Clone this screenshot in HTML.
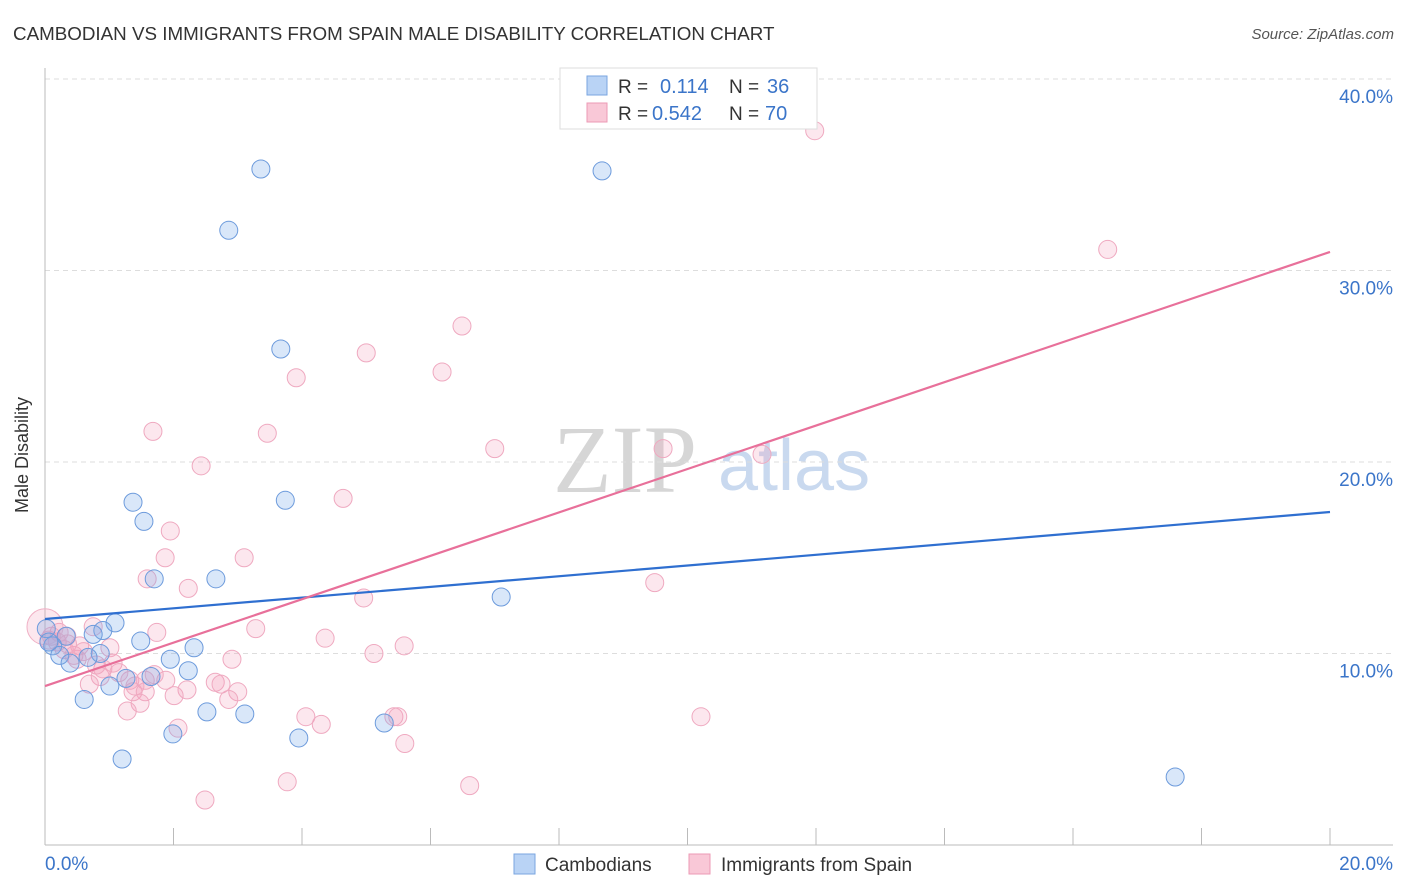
<!DOCTYPE html>
<html><head><meta charset="utf-8"><style>
body{margin:0;background:#fff;font-family:"Liberation Sans",sans-serif;}
svg{display:block}
</style></head><body>
<svg id="chart" width="1406" height="892" xmlns="http://www.w3.org/2000/svg">
<text x="13" y="40" font-size="18.8" fill="#333">CAMBODIAN VS IMMIGRANTS FROM SPAIN MALE DISABILITY CORRELATION CHART</text>
<text x="1394" y="39" font-size="15" font-style="italic" fill="#555" text-anchor="end">Source: ZipAtlas.com</text>
<g>
<text x="553" y="492" font-size="96" font-family="Liberation Serif,serif" fill="#d6d6d6">ZIP</text>
<text x="718" y="490" font-size="72" fill="#c9d9ef">atlas</text>
</g>
<g id="grid"></g>
<line x1="45" y1="68" x2="45" y2="845" stroke="#bbb"/>
<line x1="45" y1="845" x2="1393" y2="845" stroke="#bbb"/>
<g id="xticks"></g>
<g id="points"></g>
<g id="lines"></g>
<text x="28" y="455" font-size="18" fill="#333" text-anchor="middle" transform="rotate(-90 28 455)">Male Disability</text>
<g>
<rect x="560" y="68" width="257" height="61" fill="#fff" stroke="#ddd"/>
<rect x="587" y="76" width="20" height="19" fill="#b9d3f5" stroke="#7aa6e0"/>
<rect x="587" y="103" width="20" height="19" fill="#f9c8d7" stroke="#ec9ab5"/>
<text x="618" y="93" font-size="19" fill="#333">R =</text><text x="660" y="93" font-size="20" fill="#3b75c9">0.114</text>
<text x="729" y="93" font-size="19" fill="#333">N =</text><text x="767" y="93" font-size="20" fill="#3b75c9">36</text>
<text x="618" y="120" font-size="19" fill="#333">R =</text><text x="652" y="120" font-size="20" fill="#3b75c9">0.542</text>
<text x="729" y="120" font-size="19" fill="#333">N =</text><text x="765" y="120" font-size="20" fill="#3b75c9">70</text>
</g>
<g>
<rect x="514" y="854" width="21" height="20" fill="#b9d3f5" stroke="#7aa6e0"/>
<text x="545" y="871" font-size="19" fill="#333">Cambodians</text>
<rect x="689" y="854" width="21" height="20" fill="#f9c8d7" stroke="#ec9ab5"/>
<text x="721" y="871" font-size="19" fill="#333">Immigrants from Spain</text>
</g>
</svg>
<script>
const yTicks=[10,20,30,40];
const yTickLabels=["10.0%","20.0%","30.0%","40.0%"];
const xTickLabels=["0.0%","20.0%"];
const blueX=[3.36,8.67,2.86,3.67,1.37,3.74,1.54,1.70,2.66,7.10,17.59,1.09,0.90,0.75,0.33,1.49,2.32,0.12,0.86,1.95,0.23,0.67,0.39,2.23,1.65,1.26,1.01,0.61,2.52,3.11,5.28,1.99,3.95,1.20,0.02,0.06];
const blueY=[35.3,35.2,32.1,25.9,17.9,18.0,16.9,13.9,13.9,12.95,3.55,11.6,11.2,11.0,10.9,10.65,10.3,10.4,10.0,9.7,9.9,9.8,9.5,9.1,8.8,8.7,8.3,7.6,6.95,6.84,6.37,5.8,5.59,4.49,11.3,10.6];
const pinkX=[11.98,16.54,6.49,5.0,3.91,6.18,1.68,3.46,7.0,9.62,11.16,2.43,4.64,1.95,1.87,3.10,1.59,2.23,9.49,4.96,3.28,1.74,4.36,0.75,0.34,5.59,5.12,2.91,0.06,0.54,1.01,0.50,1.06,0.86,0.69,1.32,1.56,1.88,2.21,2.65,2.74,3.0,2.01,1.37,1.56,2.86,1.48,1.28,2.07,4.06,4.30,5.43,5.49,5.6,10.21,3.77,2.49,6.61,0.22,0.19,0.3,0.45,0.9,1.15,0.1,0.35,1.4,0.8,0.6,1.7];
const pinkY=[37.3,31.1,27.1,25.7,24.4,24.7,21.6,21.5,20.7,20.7,20.4,19.8,18.1,16.4,15.0,15.0,13.9,13.4,13.7,12.9,11.3,11.1,10.8,11.4,10.9,10.4,10.0,9.7,10.7,10.4,10.3,9.7,9.5,8.8,8.4,8.6,8.6,8.6,8.1,8.5,8.4,8.0,7.8,8.0,8.0,7.6,7.4,7.0,6.1,6.7,6.3,6.7,6.7,5.3,6.7,3.3,2.35,3.1,11.1,10.6,10.2,9.9,9.2,9.0,10.9,10.5,8.3,9.4,10.1,8.9];
const blueTrend=[11.8,17.39];
const pinkTrend=[8.3,30.97];
const NS="http://www.w3.org/2000/svg";
const sx=v=>45+v/20*1285;
const sy=v=>845-v*19.15;
function mk(tag,attrs,parent){const e=document.createElementNS(NS,tag);for(const k in attrs)e.setAttribute(k,attrs[k]);parent.appendChild(e);return e;}
const grid=document.getElementById('grid');
yTicks.forEach((t,i)=>{
 const l=mk('line',{x1:45,x2:1393,y1:sy(t),y2:sy(t),stroke:'#ddd','stroke-dasharray':'5,4'},grid);
 
 
 const tx=mk('text',{x:1393,y:sy(t)+24,'font-size':19,fill:'#3b75c9','text-anchor':'end'},grid);
 tx.textContent=yTickLabels[i];
 
 
});
const xt=document.getElementById('xticks');
for(let k=1;k<=10;k++){
 const l=mk('line',{x1:sx(k*2),x2:sx(k*2),y1:828,y2:845,stroke:'#bbb'},xt);
 
 
}
[[0,'start',45],[1,'end',1393]].forEach(([i,a,x])=>{
 const t=mk('text',{x:x,y:870,'font-size':19,fill:'#3b75c9','text-anchor':a},xt);
 t.textContent=xTickLabels[i];
 
 
});
const pts=document.getElementById('points');
pinkX.forEach((x,i)=>{
 const c=mk('circle',{cx:sx(x),cy:sy(pinkY[i]),r:9,fill:'rgba(244,160,188,0.25)',stroke:'#efa9c0','stroke-width':1},pts);
 
 
});
const big=mk('circle',{cx:sx(0),cy:sy(11.4),r:18,fill:'rgba(244,160,188,0.25)',stroke:'#f0b0c5'},pts);


blueX.forEach((x,i)=>{
 const c=mk('circle',{cx:sx(x),cy:sy(blueY[i]),r:9,fill:'rgba(120,170,235,0.28)',stroke:'#6d9bdc','stroke-width':1},pts);
 
 
});
const ln=document.getElementById('lines');
const bl=mk('line',{x1:sx(0),y1:sy(blueTrend[0]),x2:sx(20),y2:sy(blueTrend[1]),stroke:'#2f6fd0','stroke-width':2.2},ln);


const pl=mk('line',{x1:sx(0),y1:sy(pinkTrend[0]),x2:sx(20),y2:sy(pinkTrend[1]),stroke:'#e8709a','stroke-width':2.2},ln);


</script>
</body></html>
